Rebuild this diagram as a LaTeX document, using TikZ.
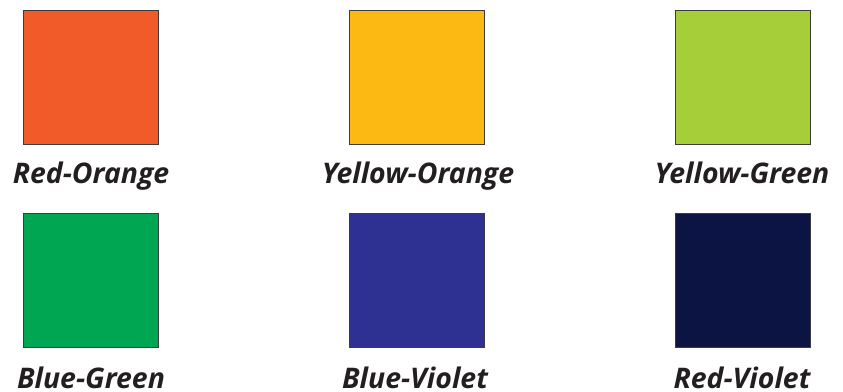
\documentclass[tikz,border=0pt]{standalone}
\usepackage{fontspec}
\setmainfont{Open Sans}
\usepackage{tikz}
\definecolor{SwRedOrange}{HTML}{F15A29}
\definecolor{SwYellowOrange}{HTML}{FDB913}
\definecolor{SwYellowGreen}{HTML}{A6CE39}
\definecolor{SwBlueGreen}{HTML}{00A651}
\definecolor{SwBlueViolet}{HTML}{2E3192}
\definecolor{SwRedViolet}{HTML}{0B1442}
\definecolor{SwEdge}{HTML}{3C3C3C}
\definecolor{SwInk}{HTML}{231F20}
\tikzset{
  swatch/.style={draw=SwEdge,line width=0.9pt,minimum width=135pt,minimum height=134pt,
                 inner sep=0pt,outer sep=0pt},
  swlabel/.style={text=SwInk,font=\fontsize{28.4}{32}\selectfont\bfseries\itshape,anchor=base,
                  inner sep=0pt},
}
\begin{document}
\begin{tikzpicture}[x=1pt,y=-1pt]
    \useasboundingbox (0,0) rectangle (843,391);
    % top row
    \node[swatch,fill=SwRedOrange] (ro) at (90.5,77) {};
    \node[swatch,fill=SwYellowOrange] (yo) at (417,77) {};
    \node[swatch,fill=SwYellowGreen] (yg) at (742.5,77) {};
    \node[swlabel] (rolabel) at (91,183) {Red-Orange};
    \node[swlabel] (yolabel) at (418,183) {Yellow-Orange};
    \node[swlabel] (yglabel) at (742,183) {Yellow-Green};
    % bottom row
    \node[swatch,fill=SwBlueGreen] (bg) at (90.5,280.5) {};
    \node[swatch,fill=SwBlueViolet] (bv) at (417,280.5) {};
    \node[swatch,fill=SwRedViolet] (rv) at (742.5,280.5) {};
    \node[swlabel] (bglabel) at (91,388) {Blue-Green};
    \node[swlabel] (bvlabel) at (415,388) {Blue-Violet};
    \node[swlabel] (rvlabel) at (742,388) {Red-Violet};
\end{tikzpicture}
\end{document}
